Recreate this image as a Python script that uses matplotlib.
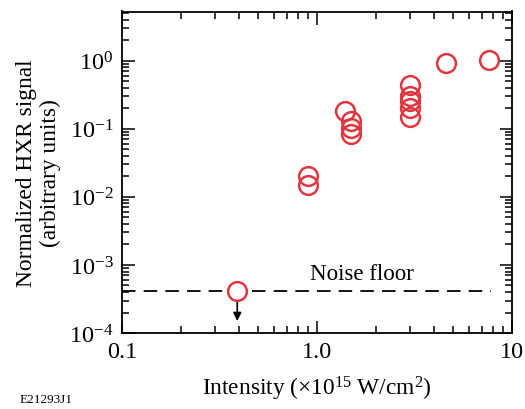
import matplotlib
matplotlib.use("Agg")
import matplotlib.pyplot as plt
from matplotlib.ticker import LogLocator, FixedLocator, FixedFormatter, NullFormatter

plt.rcParams['font.family'] = ['Liberation Serif', 'DejaVu Serif']
plt.rcParams['mathtext.fontset'] = 'custom'
plt.rcParams['mathtext.rm'] = 'Liberation Serif'
plt.rcParams['mathtext.it'] = 'Liberation Serif:italic'

# Data
intensity = [0.9, 0.9, 1.4, 1.5, 1.5, 1.5, 3.0, 3.0, 3.0, 3.0, 3.0, 4.6, 7.6]
signal = [0.0205, 0.0152, 0.184, 0.13, 0.103, 0.084, 0.445, 0.305, 0.255, 0.203, 0.148, 0.925, 1.03]
noise_x = [0.39]
noise_y = [4.2e-4]
noise_floor = 4.2e-4
xticks = [0.1, 1.0, 10]
xticklabels = ['0.1', '1.0', '10']
yticks = [1e-4, 1e-3, 1e-2, 1e-1, 1e0]
yticklabels = [r'$10^{-4}$', r'$10^{-3}$', r'$10^{-2}$', r'$10^{-1}$', r'$10^{0}$']

red = '#e0373f'

fig = plt.figure(figsize=(5.25, 4.1), dpi=100)
ax = fig.add_axes([122/525, 1 - 334/410, (512-122)/525, (334-12.5)/410])
ax.set_xscale('log')
ax.set_yscale('log')
ax.set_xlim(0.1, 10)
ax.set_ylim(1e-4, 5.3)

ax.axhline(noise_floor, xmin=0, xmax=0.945, color='black', lw=1.3, ls=(0, (7.5, 4.5)))
ax.plot(intensity, signal, 'o', ms=13.5, mfc='none', mec=red, mew=1.8, zorder=3)
ax.plot(noise_x, noise_y, 'o', ms=13.5, mfc='white', mec=red, mew=1.8, zorder=4)
ax.annotate('', xy=(noise_x[0], 1.5e-4), xytext=(noise_x[0], 3.2e-4),
            arrowprops=dict(arrowstyle='-|>', color='black', lw=1.2,
                            mutation_scale=12, shrinkA=0, shrinkB=0), zorder=2)
ax.text(1.71, 5.3e-4, 'Noise floor', fontsize=16.5, ha='center', va='bottom')

ax.xaxis.set_major_locator(FixedLocator(xticks))
ax.xaxis.set_major_formatter(FixedFormatter(xticklabels))
ax.xaxis.set_minor_locator(LogLocator(base=10, subs=range(2, 10)))
ax.xaxis.set_minor_formatter(NullFormatter())
ax.yaxis.set_major_locator(FixedLocator(yticks))
ax.yaxis.set_major_formatter(FixedFormatter(yticklabels))
ax.yaxis.set_minor_locator(LogLocator(base=10, subs=range(2, 10), numticks=20))
ax.yaxis.set_minor_formatter(NullFormatter())

ax.tick_params(which='both', direction='in', top=True, right=True, width=1.1, labelsize=17.5)
ax.tick_params(which='major', length=9, pad=6)
ax.tick_params(which='minor', length=5)
for s in ax.spines.values():
    s.set_linewidth(1.3)

ax.set_xlabel(r'Intensity ($\times$10$^{15}$ W/cm$^{2}$)', fontsize=16.8, labelpad=8)
ax.set_ylabel('Normalized HXR signal\n(arbitrary units)', fontsize=16.8, labelpad=6, linespacing=1.2)
fig.text(20/525, 1 - 403/410, 'E21293J1', fontsize=9.5)

fig.savefig('out.png', dpi=100)
